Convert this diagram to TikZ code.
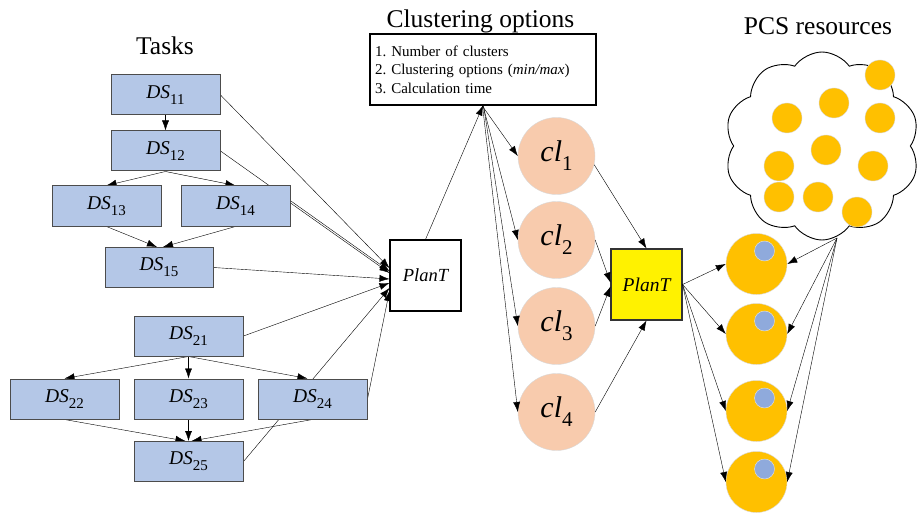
\documentclass[tikz,border=0pt]{standalone}
\usepackage{fontspec}
\setmainfont{Liberation Serif}
\usetikzlibrary{arrows.meta,shapes.symbols,calc}
\pgfdeclarelayer{back}
\pgfdeclarelayer{bg}
\pgfsetlayers{back,bg,main}
\definecolor{dsblue}{HTML}{B4C7E7}
\definecolor{clpeach}{HTML}{F8CBAD}
\definecolor{resorange}{HTML}{FFC000}
\definecolor{resblue}{HTML}{8FAADC}
\newcommand{\dsl}[1]{\textit{DS}\raisebox{-0.3em}{\fontsize{15}{15}\selectfont #1}}
\newcommand{\cll}[1]{\textit{cl}\raisebox{-0.3em}{\fontsize{21}{21}\selectfont #1}}
\frenchspacing
\begin{document}
\begin{tikzpicture}[x=1pt,y=-1pt, >={Latex[length=10pt,width=7pt]}, line width=0.9pt,
  ds/.style={draw=black!70, fill=dsblue, minimum width=109pt, minimum height=40pt, inner sep=0pt, line width=1pt, font=\fontsize{19.5}{19.5}\selectfont},
  title/.style={font=\fontsize{25.5}{26}\selectfont, inner sep=0pt},
  clc/.style={circle, fill=clpeach, draw=gray!30, minimum size=77pt, inner sep=0pt, font=\fontsize{30}{30}\selectfont},
  plan/.style={draw, line width=1.1pt, minimum size=71pt, inner sep=0pt, font=\fontsize{18.5}{18.5}\selectfont\itshape},
  res/.style={circle, fill=resorange, draw=gray!30, minimum size=61pt, inner sep=0pt},
  resin/.style={circle, fill=resblue, draw=gray!20, minimum size=20pt, inner sep=0pt},
  rc/.style={circle, fill=resorange, draw=gray!30, minimum size=30pt, inner sep=0pt}]
\useasboundingbox (0,0) rectangle (920,513);
\begin{pgfonlayer}{back}
\fill[white] (0,0) rectangle (920,513);
\end{pgfonlayer}

% titles
\node[title] (tasks) at (165,46) {Tasks};
\node[title] (ctitle) at (480.5,21) {Clustering options};
\node[title] (ptitle) at (818,26) {PCS resources};

% task boxes
\node[ds] (ds11) at (165.5,95) {\dsl{11}};
\node[ds] (ds12) at (165.5,151) {\dsl{12}};
\node[ds] (ds13) at (106.5,206) {\dsl{13}};
\node[ds] (ds14) at (235.5,206) {\dsl{14}};
\node[ds, minimum width=108pt] (ds15) at (159,267.5) {\dsl{15}};
\node[ds] (ds21) at (188.5,336) {\dsl{21}};
\node[ds] (ds22) at (64.5,399) {\dsl{22}};
\node[ds] (ds23) at (188.5,399) {\dsl{23}};
\node[ds] (ds24) at (312.5,399) {\dsl{24}};
\node[ds] (ds25) at (188.5,461.5) {\dsl{25}};

% planners
\node[plan, fill=white] (planA) at (425.5,275.5) {PlanT};
\node[plan, draw=black!80, fill=yellow, font=\fontsize{19.5}{19.5}\selectfont\itshape] (planB) at (646.5,284.5) {PlanT};

% clustering box
\node[draw, line width=1.1pt, minimum width=226pt, minimum height=71pt, text width=216pt, inner xsep=5pt, align=left, font=\fontsize{15}{18.5}\selectfont] (clust) at (483,69.5) {1. Number of clusters\\2. Clustering options (\textit{min/max})\\3. Calculation time};

% clusters
\node[clc] (cl1) at (556.5,156) {\cll{1}};
\node[clc] (cl2) at (556.5,240) {\cll{2}};
\node[clc] (cl3) at (556.5,326) {\cll{3}};
\node[clc] (cl4) at (556.5,412) {\cll{4}};

% cloud
\node[cloud, draw, line width=0.9pt, cloud puffs=10, cloud puff arc=110, minimum width=195pt, minimum height=188pt, inner sep=0pt] (cloud) at (822,146) {};
\coordinate (cb) at (837,238);
\node[rc] (k1) at (880,75) {};
\node[rc] (k2) at (834,103) {};
\node[rc] (k3) at (787,118) {};
\node[rc] (k4) at (880,118) {};
\node[rc] (k5) at (826,150) {};
\node[rc] (k6) at (779,166) {};
\node[rc] (k7) at (873,166) {};
\node[rc] (k8) at (779,197) {};
\node[rc] (k9) at (818,197) {};
\node[rc] (k10) at (857,212) {};

% resources
\node[res] (r1) at (756.5,264) {};
\node[res] (r2) at (756.5,334) {};
\node[res] (r3) at (756.5,411) {};
\node[res] (r4) at (756.5,482) {};
\node[resin] (b1) at ($(r1)+(8,-13)$) {};
\node[resin] (b2) at ($(r2)+(8,-13)$) {};
\node[resin] (b3) at ($(r3)+(8,-13)$) {};
\node[resin] (b4) at ($(r4)+(8,-13)$) {};

% convergence points at planA
\coordinate (t11) at ($(planA.west)+(0,-7.5)$);
\coordinate (t12) at ($(planA.west)+(0,-4.5)$);
\coordinate (t14) at ($(planA.west)+(0,-2.5)$);
\coordinate (t15) at ($(planA.west)+(0,3.5)$);
\coordinate (t21) at ($(planA.west)+(0,7.5)$);
\coordinate (t25) at ($(planA.west)+(0,12.5)$);
\coordinate (t24) at ($(planA.west)+(0,15.5)$);

\begin{pgfonlayer}{bg}
% task graph 1
\draw[->] (ds11.south) -- (ds12.north);
\draw[->] (ds12.south) -- (ds13.north);
\draw[->] (ds12.south) -- (ds14.north);
\draw[->] (ds13.south) -- ($(ds15.north)+(-2,0)$);
\draw[->] (ds14.south) -- ($(ds15.north)+(4,0)$);
% task graph 2
\draw[->] (ds21.south) -- (ds22.north);
\draw[->] (ds21.south) -- (ds23.north);
\draw[->] (ds21.south) -- ($(ds24.north)+(-5,0)$);
\draw[->] (ds22.south) -- ($(ds25.north)+(-3,0)$);
\draw[->] (ds23.south) -- (ds25.north);
\draw[->] (ds24.south) -- ($(ds25.north)+(3,0)$);
% to planner
\draw[->] (ds11.east) -- (t11);
\draw[->] (ds12.east) -- (t12);
\draw[->] ($(ds14.east)+(0,-3)$) -- (t14);
\draw[->] (ds15.east) -- (t15);
\draw[->] (ds21.east) -- (t21);
\draw[->] (ds25.east) -- (t25);
\draw[->] (ds24.east) -- (t24);
\end{pgfonlayer}

% clustering flow
\draw[->] (planA.north) -- (clust.south);
\draw[->] ($(clust.south)+(-1,0)$) -- (cl1.west);
\draw[->] (clust.south) -- (cl2.west);
\draw[->] ($(clust.south)+(0.5,0)$) -- (cl3.west);
\draw[->] ($(clust.south)+(-0.5,0)$) -- (cl4.west);
\draw[->] (cl1.-13) -- (planB.north);
\draw[->] (cl2.east) -- ($(planB.west)+(0,-2)$);
\draw[->] (cl3.east) -- ($(planB.west)+(0,2)$);
\draw[->] (cl4.east) -- (planB.south);
% resources
\draw[->] (planB.east) -- (r1.west);
\draw[->] (planB.east) -- (r2.west);
\draw[->] (planB.east) -- (r3.west);
\draw[->] (planB.east) -- (r4.west);
\draw[->] (cb) -- (r1.east);
\draw[->] (cb) -- (r2.east);
\draw[->] (cb) -- (r3.east);
\draw[->] (cb) -- (r4.east);
\end{tikzpicture}
\end{document}
